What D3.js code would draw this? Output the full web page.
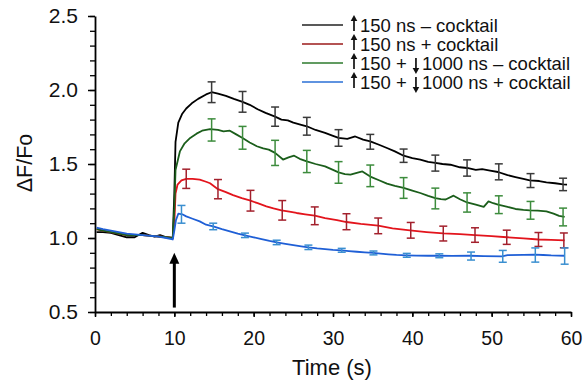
<!DOCTYPE html>
<html>
<head>
<meta charset="utf-8">
<script src="https://cdn.jsdelivr.net/npm/d3@7"></script>
<style>
  body { margin: 0; background: #fff; }
  text { font-family: "Liberation Sans", Arial, sans-serif; white-space: pre; }
</style>
</head>
<body>
<div id="chart"></div>
<script>
// ---- data ----
const blackT = [0.2, 1, 2, 3, 4, 5, 6, 6.8, 7.5, 8.2, 9, 9.8, 10.0, 10.15, 10.5, 11, 11.5, 12.2, 13, 14, 14.7, 15.5, 16.5, 17.5, 18.6, 19.5, 20.5, 21.5, 22.7, 23.5, 24.3, 25, 26, 26.7, 27.8, 29, 30, 30.7, 31.8, 32.8, 33.8, 34.7, 35.8, 36.8, 37.8, 38.9, 40, 41, 42, 42.9, 43.8, 44.8, 46, 46.9, 48, 48.8, 49.8, 50.8, 52, 53, 54, 54.8, 56, 56.9, 58, 59, 59.5];
const blackV = [1.04, 1.04, 1.035, 1.02, 1.005, 1.005, 1.035, 1.02, 1.01, 1.02, 1.005, 1.0, 1.3, 1.65, 1.78, 1.84, 1.875, 1.91, 1.94, 1.97, 1.985, 1.975, 1.96, 1.94, 1.92, 1.9, 1.87, 1.845, 1.82, 1.8, 1.795, 1.78, 1.765, 1.755, 1.73, 1.71, 1.69, 1.676, 1.67, 1.686, 1.665, 1.653, 1.63, 1.608, 1.585, 1.556, 1.54, 1.53, 1.515, 1.508, 1.5, 1.495, 1.478, 1.473, 1.46, 1.465, 1.455, 1.446, 1.425, 1.412, 1.4, 1.39, 1.385, 1.376, 1.37, 1.362, 1.36];

const redT = [0.2, 1, 2, 3, 4, 5, 6, 7, 8, 9, 9.8, 10.0, 10.15, 10.4, 10.9, 11.5, 12.3, 13.2, 14, 14.5, 15.5, 16.5, 17.4, 18.5, 19.5, 20.5, 21.6, 22.5, 23.5, 24.5, 25.4, 26.5, 27.7, 29, 30.5, 31.7, 33.5, 35.7, 37.5, 39.7, 41.8, 43.9, 46, 47.9, 50, 51.9, 54, 55.9, 57.5, 59.2];
const redV = [1.06, 1.05, 1.04, 1.03, 1.02, 1.02, 1.02, 1.015, 1.01, 1.005, 1.0, 1.1, 1.3, 1.36, 1.39, 1.4, 1.4, 1.394, 1.38, 1.37, 1.33, 1.31, 1.29, 1.27, 1.254, 1.235, 1.214, 1.2, 1.187, 1.178, 1.169, 1.16, 1.151, 1.135, 1.12, 1.108, 1.095, 1.083, 1.065, 1.051, 1.04, 1.031, 1.026, 1.02, 1.012, 1.005, 0.998, 0.99, 0.987, 0.984];

const greenT = [0.2, 1, 2, 3, 4, 5, 6, 7, 8, 9, 9.8, 10.0, 10.15, 10.7, 11.3, 12, 12.8, 13.5, 14.5, 15.5, 16.2, 17, 17.8, 18.6, 19.5, 20.4, 21.2, 21.9, 22.7, 23.7, 24.4, 25.1, 25.8, 26.7, 27.8, 29, 30, 30.7, 31.5, 32.2, 33, 33.7, 34.7, 35.8, 36.8, 37.8, 38.9, 40, 41, 42, 42.9, 43.6, 44.2, 45.2, 46, 46.9, 48, 49, 49.6, 50.2, 50.8, 52, 53, 54, 54.8, 55.8, 56.9, 57.8, 58.5, 59.2];
const greenV = [1.06, 1.05, 1.04, 1.03, 1.02, 1.02, 1.02, 1.015, 1.01, 1.005, 1.0, 1.2, 1.46, 1.585, 1.64, 1.676, 1.705, 1.725, 1.736, 1.73, 1.72, 1.725, 1.7, 1.676, 1.645, 1.62, 1.605, 1.597, 1.575, 1.53, 1.545, 1.556, 1.535, 1.518, 1.5, 1.484, 1.46, 1.443, 1.432, 1.428, 1.44, 1.45, 1.415, 1.39, 1.367, 1.352, 1.338, 1.32, 1.304, 1.285, 1.27, 1.262, 1.26, 1.286, 1.262, 1.24, 1.225, 1.21, 1.247, 1.235, 1.225, 1.21, 1.196, 1.19, 1.187, 1.185, 1.18, 1.165, 1.15, 1.142];

const blueT = [0.2, 1, 2, 3, 4, 5, 6, 7, 8, 9, 9.8, 10.0, 10.2, 10.5, 11, 11.5, 12.3, 13.2, 14, 14.9, 16, 17, 18, 18.9, 20, 21, 22, 22.9, 24, 25, 26, 26.9, 28, 29, 30, 31.1, 32, 33, 34, 35.1, 36, 37, 38, 39.2, 40.5, 42, 43.3, 45, 47.3, 49, 51.3, 52, 54, 55.4, 56.5, 57.5, 59.2];
const blueV = [1.07, 1.06, 1.05, 1.04, 1.03, 1.025, 1.02, 1.015, 1.01, 1.0, 0.99, 1.05, 1.12, 1.164, 1.16, 1.146, 1.13, 1.112, 1.09, 1.078, 1.06, 1.045, 1.03, 1.018, 1.005, 0.993, 0.98, 0.97, 0.96, 0.952, 0.944, 0.937, 0.93, 0.925, 0.92, 0.917, 0.912, 0.907, 0.903, 0.899, 0.895, 0.89, 0.886, 0.883, 0.881, 0.88, 0.88, 0.879, 0.88, 0.878, 0.876, 0.884, 0.886, 0.887, 0.885, 0.882, 0.88];

// error bars: time, mean, half-width
const blackBarT = [14.7, 18.6, 22.7, 26.7, 30.7, 34.7, 38.9, 42.9, 46.9, 50.9, 54.9, 59];
const blackBarV = [1.985, 1.92, 1.82, 1.755, 1.676, 1.65, 1.556, 1.506, 1.473, 1.447, 1.388, 1.362];
const blackBarE = [0.07, 0.07, 0.065, 0.06, 0.056, 0.05, 0.045, 0.054, 0.055, 0.054, 0.047, 0.042];

const redBarT = [11.5, 15.5, 19.6, 23.6, 27.7, 31.7, 35.7, 39.8, 43.9, 47.9, 51.9, 55.9, 59.1];
const redBarV = [1.4, 1.33, 1.252, 1.187, 1.15, 1.11, 1.082, 1.052, 1.03, 1.02, 1.005, 0.99, 0.984];
const redBarE = [0.065, 0.065, 0.07, 0.066, 0.06, 0.054, 0.053, 0.053, 0.05, 0.049, 0.048, 0.047, 0.05];

const greenBarT = [14.7, 18.6, 22.7, 26.7, 30.7, 34.7, 38.9, 42.9, 46.9, 50.9, 54.9, 59];
const greenBarV = [1.73, 1.677, 1.575, 1.517, 1.443, 1.42, 1.338, 1.267, 1.24, 1.225, 1.187, 1.142];
const greenBarE = [0.075, 0.077, 0.085, 0.075, 0.073, 0.073, 0.07, 0.07, 0.065, 0.06, 0.06, 0.06];

const blueBarT = [10.9, 14.9, 18.9, 22.9, 26.9, 31.1, 35.1, 39.3, 43.4, 47.4, 51.4, 55.5, 59.2];
const blueBarV = [1.16, 1.078, 1.018, 0.97, 0.937, 0.917, 0.899, 0.883, 0.88, 0.878, 0.876, 0.885, 0.878];
const blueBarE = [0.06, 0.022, 0.015, 0.015, 0.015, 0.013, 0.013, 0.013, 0.013, 0.027, 0.04, 0.048, 0.055];

const xTicks = [0, 10, 20, 30, 40, 50, 60];
const yTicks = [0.5, 1.0, 1.5, 2.0, 2.5];

// "up"/"down" are drawn as small arrows, everything else is text
const legendLabels = [
  ["up", "150 ns \u2013 cocktail"],
  ["up", "150 ns + cocktail"],
  ["up", "150 + ", "down", "1000 ns \u2013 cocktail"],
  ["up", "150 + ", "down", "1000 ns + cocktail"]
];

// stimulus arrow (time, from, to in data units)
const stimT = 10, stimFrom = 0.53, stimTo = 0.9;

// ---- layout ----
const width = 583, height = 383;
const margin = { left: 95, right: 12, top: 16, bottom: 71 };

const svg = d3.select("#chart").append("svg")
  .attr("width", width)
  .attr("height", height)
  .style("background", "#fff");

const x = d3.scaleLinear().domain([0, 60]).range([margin.left, width - margin.right]);
const y = d3.scaleLinear().domain([0.5, 2.5]).range([height - margin.bottom, margin.top]);

// minor ticks first, majors on top
svg.append("g")
  .attr("transform", `translate(0,${y(0.5)})`)
  .call(d3.axisBottom(x).tickValues(d3.range(0, 61, 2)).tickSize(4).tickFormat(""))
  .call(g => g.select(".domain").remove())
  .call(g => g.selectAll("line").attr("stroke-width", 1.3));

svg.append("g")
  .attr("transform", `translate(${x(0)},0)`)
  .call(d3.axisLeft(y).tickValues(d3.range(5, 26).map(d => d / 10)).tickSize(5).tickFormat(""))
  .call(g => g.select(".domain").remove())
  .call(g => g.selectAll("line").attr("stroke-width", 1.3));

const xAxis = svg.append("g")
  .attr("transform", `translate(0,${y(0.5)})`)
  .call(d3.axisBottom(x).tickValues(xTicks).tickSize(5).tickPadding(14).tickSizeOuter(0).tickFormat(d3.format("d")));

const yAxis = svg.append("g")
  .attr("transform", `translate(${x(0)},0)`)
  .call(d3.axisLeft(y).tickValues(yTicks).tickSize(7).tickPadding(10).tickSizeOuter(0).tickFormat(d3.format(".1f")));

[xAxis, yAxis].forEach(g => {
  g.select(".domain").attr("stroke-width", 1.8);
  g.selectAll("line").attr("stroke-width", 1.5);
  g.selectAll("text").attr("fill", "#111")
    .style("font-family", "'Liberation Sans', Arial, sans-serif");
});
xAxis.selectAll("text").attr("font-size", 19.5);
yAxis.selectAll("text").attr("font-size", 21);

// axis titles
svg.append("text")
  .attr("x", 332).attr("y", 375)
  .attr("text-anchor", "middle")
  .attr("font-size", 22)
  .attr("fill", "#111")
  .text("Time (s)");

svg.append("text")
  .attr("transform", "translate(32,163) rotate(-90)")
  .attr("text-anchor", "middle")
  .attr("font-size", 21.5)
  .attr("fill", "#111")
  .text("\u0394F/Fo");

// ---- series ----
const series = [
  { t: blackT, v: blackV, line: "#000000", bar: "#3a3a3a", bt: blackBarT, bv: blackBarV, be: blackBarE, legend: "#222222" },
  { t: redT, v: redV, line: "#e3141c", bar: "#a3202c", bt: redBarT, bv: redBarV, be: redBarE, legend: "#9b1a1a" },
  { t: greenT, v: greenV, line: "#1b5e1b", bar: "#3d8c3d", bt: greenBarT, bv: greenBarV, be: greenBarE, legend: "#2d7a2d" },
  { t: blueT, v: blueV, line: "#1f5fd6", bar: "#3a8fd0", bt: blueBarT, bv: blueBarV, be: blueBarE, legend: "#2a6fd6" }
];

const line = d3.line().x(d => x(d[0])).y(d => y(d[1]));

series.forEach(s => {
  svg.append("path")
    .datum(s.t.map((t, i) => [t, s.v[i]]))
    .attr("fill", "none")
    .attr("stroke", s.line)
    .attr("stroke-width", 1.8)
    .attr("stroke-linejoin", "round")
    .attr("d", line);
});

const cap = 4;
series.forEach(s => {
  const g = svg.append("g").attr("stroke", s.bar).attr("stroke-width", 1.5);
  s.bt.forEach((t, i) => {
    const cx = x(t), top = y(s.bv[i] + s.be[i]), bot = y(s.bv[i] - s.be[i]);
    g.append("line").attr("x1", cx).attr("x2", cx).attr("y1", top).attr("y2", bot);
    g.append("line").attr("x1", cx - cap).attr("x2", cx + cap).attr("y1", top).attr("y2", top);
    g.append("line").attr("x1", cx - cap).attr("x2", cx + cap).attr("y1", bot).attr("y2", bot);
  });
});

// stimulus arrow
svg.append("line")
  .attr("x1", x(stimT)).attr("x2", x(stimT))
  .attr("y1", y(stimFrom)).attr("y2", y(stimTo) + 8)
  .attr("stroke", "#000").attr("stroke-width", 3);
svg.append("path")
  .attr("d", `M${x(stimT)},${y(stimTo)} L${x(stimT) - 5},${y(stimTo) + 11} L${x(stimT) + 5},${y(stimTo) + 11} Z`)
  .attr("fill", "#000");

// ---- legend ----
function smallArrow(g, cx, dir) {
  // up arrow spans cap height, down arrow sits lower
  const y0 = dir === "up" ? -10 : -5, y1 = dir === "up" ? 6 : 11;
  const tip = dir === "up" ? y0 : y1, tail = dir === "up" ? y1 : y0;
  const h = dir === "up" ? 6 : -6;
  g.append("line").attr("x1", cx).attr("x2", cx).attr("y1", tail).attr("y2", tip + h / 2)
    .attr("stroke", "#111").attr("stroke-width", 1.7);
  g.append("path").attr("d", `M${cx},${tip} L${cx - 3.3},${tip + h} L${cx + 3.3},${tip + h} Z`).attr("fill", "#111");
}

const legend = svg.append("g").attr("transform", "translate(302,25)");
legendLabels.forEach((parts, i) => {
  const row = legend.append("g").attr("transform", `translate(0,${i * 19})`);
  row.append("line")
    .attr("x1", 0).attr("x2", 41).attr("y1", 0).attr("y2", 0)
    .attr("stroke", series[i].legend).attr("stroke-width", 1.6);
  let cx = 48;
  parts.forEach(p => {
    if (p === "up" || p === "down") {
      smallArrow(row, cx + 4, p);
      cx += 10;
    } else {
      const t = row.append("text").attr("x", cx).attr("y", 6.5)
        .attr("font-size", 18.5).attr("fill", "#111").text(p);
      cx += t.node().getComputedTextLength();
    }
  });
});
</script>
</body>
</html>
